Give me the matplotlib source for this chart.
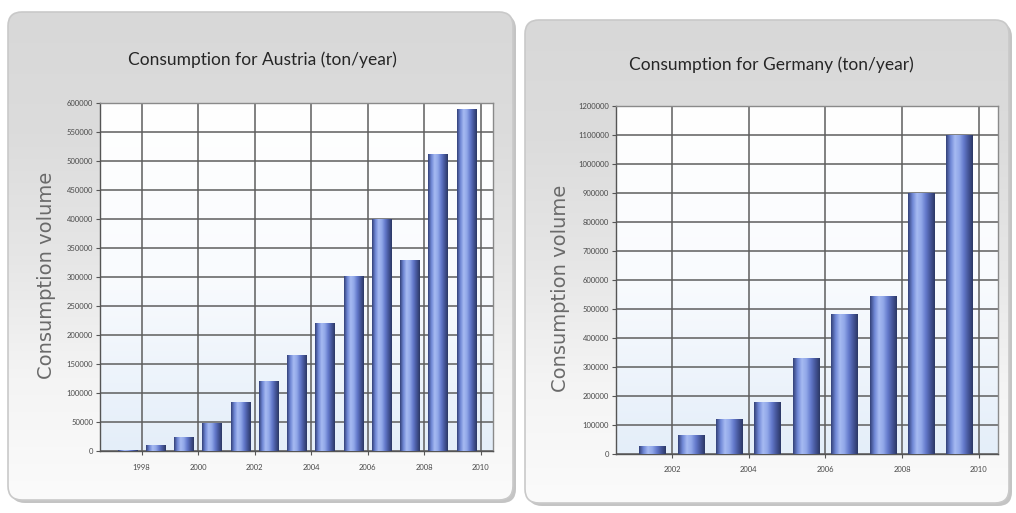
import numpy as np
import matplotlib
matplotlib.use('Agg')
import matplotlib.pyplot as plt
from matplotlib.patches import FancyBboxPatch
from matplotlib.colors import LinearSegmentedColormap

# Yearly consumption data (ton/year)
austria_years = list(range(1997, 2010))
austria_values = [2000, 10000, 24000, 48000, 85000, 120000, 165000,
                  221000, 301000, 400000, 330000, 512000, 590000]
austria_yticks = list(range(0, 600001, 50000))
austria_xticks = [1998, 2000, 2002, 2004, 2006, 2008, 2010]

germany_years = list(range(2001, 2010))
germany_values = [26000, 65000, 120000, 180000, 330000, 482000, 546000,
                  900000, 1100000]
germany_yticks = list(range(0, 1200001, 100000))
germany_xticks = [2002, 2004, 2006, 2008, 2010]

W, H = 1016, 513
plt.rcParams['font.family'] = ['Lato', 'DejaVu Sans']

fig = plt.figure(figsize=(W / 100, H / 100), dpi=100)
fig.patch.set_facecolor('white')

# full-figure pixel canvas for the panel boxes
bg = fig.add_axes([0, 0, 1, 1])
bg.set_xlim(0, W)
bg.set_ylim(H, 0)
bg.axis('off')

panel_cmap = LinearSegmentedColormap.from_list(
    'panel', ['#d8d8d8', '#dcdcdc', '#e6e6e6', '#f4f4f4', '#fbfbfb'])
bar_cmap = LinearSegmentedColormap.from_list(
    'bar', ['#34427a', '#7088d6', '#a6baf2', '#90a7e8', '#6379cb',
            '#45569a', '#2c3866'])
plot_cmap = LinearSegmentedColormap.from_list(
    'plotbg', ['#ffffff', '#f9fbfe', '#e4eef9'])


def draw_panel(x0, y0, x1, y1):
    shadow = FancyBboxPatch((x0 + 3, y0 + 3), x1 - x0, y1 - y0,
                            boxstyle='round,pad=0,rounding_size=14',
                            fc='#c4c4c4', ec='none', zorder=1)
    bg.add_patch(shadow)
    box = FancyBboxPatch((x0, y0), x1 - x0, y1 - y0,
                         boxstyle='round,pad=0,rounding_size=14',
                         fc='none', ec='#c9c9c9', lw=1.2, zorder=3)
    bg.add_patch(box)
    grad = np.linspace(0, 1, 256).reshape(-1, 1)
    im = bg.imshow(grad, cmap=panel_cmap, aspect='auto',
                   extent=[x0, x1, y1, y0], zorder=2)
    im.set_clip_path(box)


draw_panel(8, 12, 513, 500)
draw_panel(525, 20, 1009, 503)
bg.set_xlim(0, W)
bg.set_ylim(H, 0)


def px_axes(x0, y0, x1, y1):
    return fig.add_axes([x0 / W, 1 - y1 / H, (x1 - x0) / W, (y1 - y0) / H])


def draw_chart(box, years, values, yticks, xticks, xlim, title, title_xy,
               ylabel_xy):
    ax = px_axes(*box)
    ax.set_zorder(5)
    pos = [y + 0.5 for y in years]
    bars = ax.bar(pos, values, width=0.7, color='#6f86d2', zorder=3)
    grad = np.linspace(0, 1, 64).reshape(1, -1)
    for b in bars:
        im = ax.imshow(grad, cmap=bar_cmap, aspect='auto', zorder=4,
                       extent=[b.get_x(), b.get_x() + b.get_width(),
                               0, b.get_height()])
        im.set_clip_path(b)

    # background gradient of the plotting area, white at the top
    vgrad = np.linspace(0, 1, 128).reshape(-1, 1)
    ax.imshow(vgrad, cmap=plot_cmap, aspect='auto', zorder=0,
              extent=[xlim[0], xlim[1], 0, yticks[-1]])

    ax.set_xlim(*xlim)
    ax.set_ylim(0, yticks[-1])
    ax.set_yticks(yticks)
    ax.set_yticklabels([str(v) for v in yticks])
    ax.set_xticks(xticks)
    ax.set_xticklabels([str(v) for v in xticks])
    ax.tick_params(axis='both', labelsize=5.5, labelcolor='#4a4a4a',
                   color='#555555', length=3, width=0.8, pad=2)
    ax.tick_params(axis='x', pad=6)
    ax.grid(True, color='#5e5e5e', lw=1.1, zorder=1)
    for s in ax.spines.values():
        s.set_color('#8a8a8a')
        s.set_linewidth(1.0)
    ax.spines['left'].set_color('#555555')
    ax.spines['bottom'].set_color('#555555')

    bg.text(title_xy[0], title_xy[1], title, ha='center', va='center',
            fontsize=12.5, color='#262626', zorder=6)
    bg.text(ylabel_xy[0], ylabel_xy[1], 'Consumption volume', rotation=90,
            ha='center', va='center', fontsize=14, color='#6a6a6a',
            family=['DejaVu Sans'], zorder=6)
    return ax


draw_chart((100, 103, 493, 451), austria_years, austria_values,
           austria_yticks, austria_xticks, (1996.53, 2010.44),
           'Consumption for Austria (ton/year)', (262, 60), (47, 275))
draw_chart((616, 106, 998, 454), germany_years, germany_values,
           germany_yticks, germany_xticks, (2000.54, 2010.5),
           'Consumption for Germany (ton/year)', (771, 65), (560, 288))

fig.savefig('out.png', dpi=100)
